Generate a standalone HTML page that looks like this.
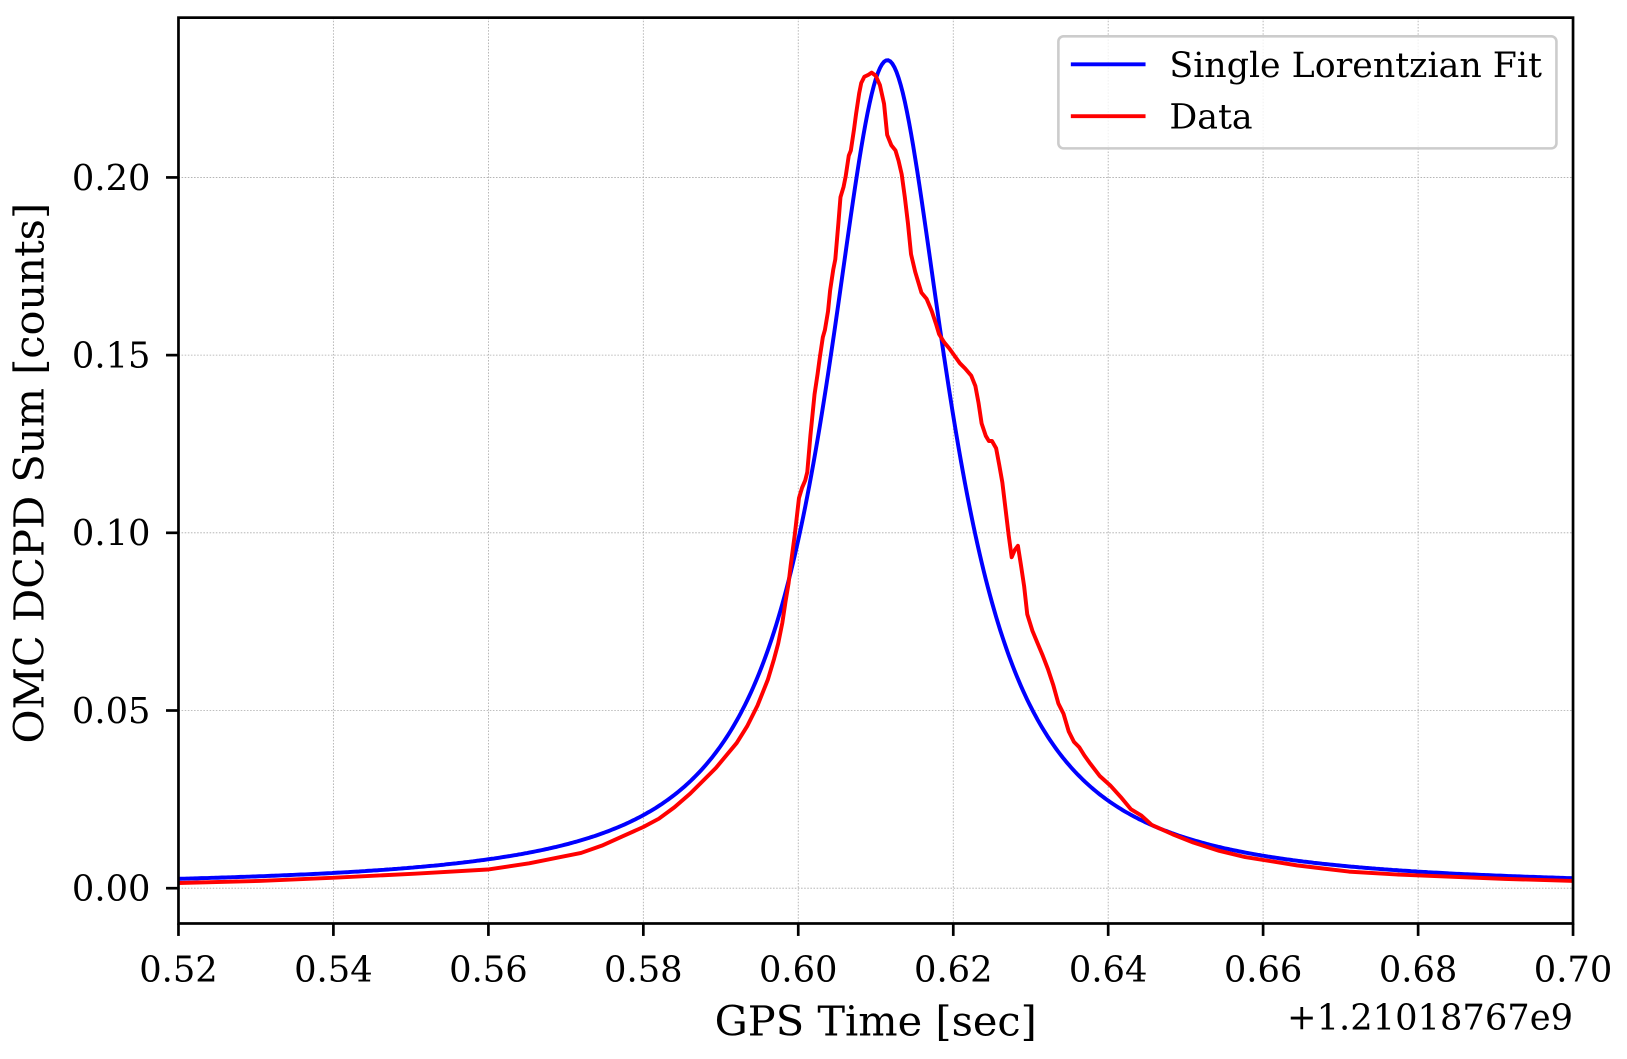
<!DOCTYPE html>
<html><head><meta charset="utf-8"><style>
html,body{margin:0;padding:0;background:#fff;width:1627px;height:1059px;overflow:hidden}
svg{display:block}
text{font-family:"DejaVu Serif","Liberation Serif",serif;fill:#000}
</style></head><body>
<svg width="1627" height="1059" viewBox="0 0 1568 1020.6" xmlns="http://www.w3.org/2000/svg">
<rect x="0" y="0" width="1568" height="1021" fill="#fff"/>
<g stroke="#aaa" stroke-width="0.8" stroke-dasharray="1.5,1.5">
<line x1="321.3" y1="17" x2="321.3" y2="890"/><line x1="470.7" y1="17" x2="470.7" y2="890"/>
<line x1="620" y1="17" x2="620" y2="890"/><line x1="769.3" y1="17" x2="769.3" y2="890"/>
<line x1="918.7" y1="17" x2="918.7" y2="890"/><line x1="1068" y1="17" x2="1068" y2="890"/>
<line x1="1217.3" y1="17" x2="1217.3" y2="890"/><line x1="1366.7" y1="17" x2="1366.7" y2="890"/>
<line x1="172" y1="856" x2="1516" y2="856"/><line x1="172" y1="684.75" x2="1516" y2="684.75"/>
<line x1="172" y1="513.5" x2="1516" y2="513.5"/><line x1="172" y1="342.25" x2="1516" y2="342.25"/>
<line x1="172" y1="171" x2="1516" y2="171"/>
</g>
<path id="blue" fill="none" stroke="#0000ff" stroke-width="3.8"/>
<polyline fill="none" stroke="#ff0000" stroke-width="3.8" stroke-linejoin="round" points="172,851 250,849 320,846 400,842 470,838 510,832 540,826 560,822 580,815 600,806 620,797 635,789 650,778 665,765 680,750 690,740 700,728 710,716 720,700 730,680 740,655 746,635 750,620 754,600 757,580 760,562 762,545 766,515 770,480 773,470 776,463 778,455 781,420 785,380 788,360 790,345 793,325 795,318 798,300 800,280 803,260 805,250 808,215 810,190 813,180 815,170 818,150 820,145 823,125 825,110 828,90 830,80 833,74 837,72 840,70 844,73 848,82 852,100 855,130 859,140 863,145 866,155 869,168 872,190 875,215 878,245 882,262 885,272 888,282 893,288 898,300 902,312 905,322 910,330 915,336 920,343 925,350 930,355 936,362 940,372 943,388 946,408 950,420 953,425 956,425 960,432 963,448 966,465 969,490 972,515 975,537 978,530 981,526 984,545 987,565 990,592 995,608 1000,620 1005,632 1010,645 1015,660 1020,678 1025,688 1030,705 1035,715 1040,720 1045,728 1050,735 1060,748 1070,757 1080,768 1090,780 1100,786 1110,795 1130,804 1150,812 1175,820 1200,826 1225,830 1250,834 1275,837 1300,840 1350,843 1400,845 1450,847 1516,849"/>
<rect x="172" y="17" width="1344" height="873" fill="none" stroke="#000" stroke-width="2.6"/>
<g stroke="#000" stroke-width="2.6">
<line x1="172" y1="890" x2="172" y2="902"/><line x1="321.3" y1="890" x2="321.3" y2="902"/>
<line x1="470.7" y1="890" x2="470.7" y2="902"/><line x1="620" y1="890" x2="620" y2="902"/>
<line x1="769.3" y1="890" x2="769.3" y2="902"/><line x1="918.7" y1="890" x2="918.7" y2="902"/>
<line x1="1068" y1="890" x2="1068" y2="902"/><line x1="1217.3" y1="890" x2="1217.3" y2="902"/>
<line x1="1366.7" y1="890" x2="1366.7" y2="902"/><line x1="1516" y1="890" x2="1516" y2="902"/>
<line x1="160" y1="856" x2="172" y2="856"/><line x1="160" y1="684.75" x2="172" y2="684.75"/>
<line x1="160" y1="513.5" x2="172" y2="513.5"/><line x1="160" y1="342.25" x2="172" y2="342.25"/>
<line x1="160" y1="171" x2="172" y2="171"/>
</g>
<g font-size="34" text-anchor="middle">
<text x="172" y="946">0.52</text><text x="321.3" y="946">0.54</text><text x="470.7" y="946">0.56</text>
<text x="620" y="946">0.58</text><text x="769.3" y="946">0.60</text><text x="918.7" y="946">0.62</text>
<text x="1068" y="946">0.64</text><text x="1217.3" y="946">0.66</text><text x="1366.7" y="946">0.68</text>
<text x="1516" y="946">0.70</text>
</g>
<g font-size="34" text-anchor="end">
<text x="145" y="868">0.00</text><text x="145" y="697">0.05</text><text x="145" y="525">0.10</text>
<text x="145" y="354">0.15</text><text x="145" y="183">0.20</text>
<text x="1516" y="992">+1.21018767e9</text>
</g>
<text x="844" y="998" font-size="40" text-anchor="middle">GPS Time [sec]</text>
<text transform="translate(42,456) rotate(-90)" font-size="40" text-anchor="middle">OMC DCPD Sum [counts]</text>
<rect x="1020" y="35" width="480" height="108" rx="5" fill="#fff" fill-opacity="0.8" stroke="#ccc" stroke-width="2.5"/>
<line x1="1032" y1="62" x2="1104" y2="62" stroke="#0000ff" stroke-width="3.8"/>
<line x1="1032" y1="112" x2="1104" y2="112" stroke="#ff0000" stroke-width="3.8"/>
<text x="1127" y="74" font-size="33.5">Single Lorentzian Fit</text>
<text x="1127" y="124" font-size="33.5">Data</text>
</svg>
<script>
(function(){var d="";for(var i=0;i<=1344;i+=2){var v=0.52+i/1344*0.18;var y=0.233/(1+Math.pow((v-0.6115)/0.0098,2));var px=172+i,py=856-y*3425;d+=(i?"L":"M")+px.toFixed(1)+","+py.toFixed(1);}document.getElementById("blue").setAttribute("d",d);})();
</script>
</body></html>
